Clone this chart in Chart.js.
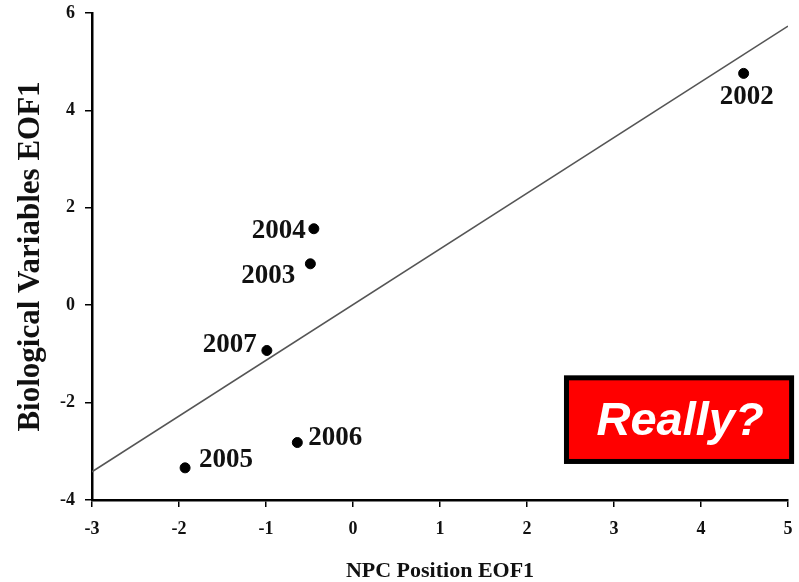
<!DOCTYPE html>
<html>
<head>
<meta charset="utf-8">
<script src="https://cdn.jsdelivr.net/npm/chart.js@4.4.1/dist/chart.umd.min.js"></script>
<style>
  body { margin: 0; background: #fff; }
  canvas { display: block; }
</style>
</head>
<body>
<canvas id="eof" width="799" height="582"></canvas>
<script>
// values
const years = ['2002', '2004', '2003', '2007', '2006', '2005'];
const npcX = [4.49, -0.45, -0.49, -0.99, -0.64, -1.93];
const bioY = [4.76, 1.57, 0.85, -0.93, -2.82, -3.34];
const fitX = [-3, 5];
const fitY = [-3.42, 5.73];

const serif = '"Liberation Serif", "Times New Roman", serif';

// where each year label sits relative to its dot
const labelPos = [
    {dx: 3, dy: 31, align: 'center'},
    {dx: -8, dy: 9, align: 'right'},
    {dx: -15, dy: 19, align: 'right'},
    {dx: -10, dy: 2, align: 'right'},
    {dx: 11, dy: 2, align: 'left'},
    {dx: 14, dy: -1, align: 'left'}
];

const yearLabels = {
    id: 'yearLabels',
    afterDatasetsDraw(chart) {
        const ctx = chart.ctx;
        const meta = chart.getDatasetMeta(0);
        ctx.save();
        ctx.fillStyle = '#111';
        ctx.font = 'bold 27px ' + serif;
        ctx.textBaseline = 'alphabetic';
        meta.data.forEach((pt, i) => {
            const p = labelPos[i];
            ctx.textAlign = p.align;
            ctx.fillText(years[i], pt.x + p.dx, pt.y + p.dy);
        });
        ctx.restore();
    }
};

const reallyBox = {
    id: 'reallyBox',
    afterDraw(chart) {
        const {ctx, scales: {x, y}} = chart;
        const x1 = x.getPixelForValue(2.425), x2 = x.getPixelForValue(5.07);
        const y1 = y.getPixelForValue(-1.44), y2 = y.getPixelForValue(-3.26);
        ctx.save();
        ctx.fillStyle = '#000';
        ctx.fillRect(x1, y1, x2 - x1, y2 - y1);
        ctx.fillStyle = '#ff0000';
        ctx.fillRect(x1 + 5, y1 + 5, x2 - x1 - 10, y2 - y1 - 10);
        ctx.fillStyle = '#fff';
        ctx.font = 'italic bold 47px "Liberation Sans", Arial, sans-serif';
        ctx.textAlign = 'center';
        ctx.textBaseline = 'alphabetic';
        ctx.fillText('Really?', (x1 + x2) / 2 + 1, y1 + 60);
        ctx.restore();
    }
};

const axisGrid = {drawOnChartArea: false, drawTicks: true, tickLength: 7, color: '#000', lineWidth: 1.5};
const axisBorder = {display: true, color: '#000', width: 2.5};

new Chart(document.getElementById('eof').getContext('2d'), {
    type: 'scatter',
    data: {
        datasets: [{
            data: npcX.map((v, i) => ({x: v, y: bioY[i]})),
            backgroundColor: '#000',
            borderColor: '#000',
            pointRadius: 5,
            order: 0
        }, {
            type: 'line',
            data: fitX.map((v, i) => ({x: v, y: fitY[i]})),
            borderColor: '#555',
            borderWidth: 1.5,
            pointRadius: 0,
            fill: false,
            order: 1
        }]
    },
    options: {
        responsive: false,
        animation: false,
        layout: {padding: {top: 13, right: 11, left: 0, bottom: 0}},
        plugins: {
            legend: {display: false},
            tooltip: {enabled: false}
        },
        scales: {
            x: {
                type: 'linear',
                min: -3,
                max: 5,
                grid: axisGrid,
                border: axisBorder,
                ticks: {stepSize: 1, padding: 12, color: '#111', font: {family: serif, size: 18, weight: 'bold'}},
                title: {
                    display: true,
                    text: 'NPC Position EOF1',
                    color: '#111',
                    padding: 0,
                    font: {family: serif, size: 22, weight: 'bold', lineHeight: 1}
                },
                afterFit(scale) {
                    scale.height = 82;
                    scale.paddingLeft = 0;
                    scale.paddingRight = 0;
                }
            },
            y: {
                min: -4,
                max: 6,
                grid: axisGrid,
                border: axisBorder,
                ticks: {stepSize: 2, padding: 10, color: '#111', font: {family: serif, size: 18, weight: 'bold'}},
                title: {
                    display: true,
                    text: 'Biological Variables EOF1',
                    color: '#111',
                    padding: {top: 15, bottom: 0},
                    font: {family: serif, size: 31, weight: 'bold', lineHeight: 1}
                },
                afterFit(scale) {
                    scale.width = 92;
                    scale.paddingTop = 0;
                    scale.paddingBottom = 0;
                }
            }
        }
    },
    plugins: [yearLabels, reallyBox]
});
</script>
</body>
</html>
